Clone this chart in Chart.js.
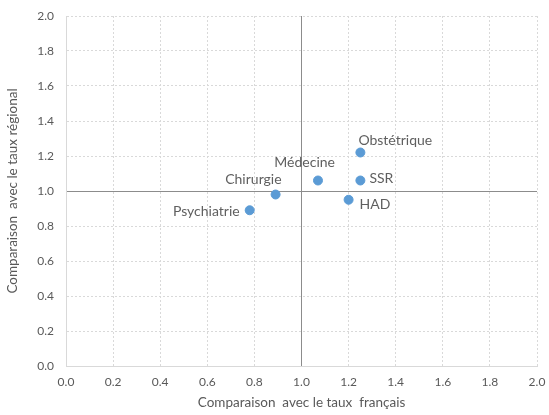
<!DOCTYPE html>
<html>
<head>
<meta charset="utf-8">
<script src="https://cdn.jsdelivr.net/npm/chart.js@4.4.0/dist/chart.umd.min.js"></script>
<style>
  html, body { margin: 0; padding: 0; background: #fff; }
  #wrap { width: 549px; height: 415px; }
</style>
</head>
<body>
<div id="wrap"><canvas id="chart" width="549" height="415"></canvas></div>
<script>
var labels = ["Obstétrique", "SSR", "Médecine", "Chirurgie", "HAD", "Psychiatrie"];
var tauxFrancais = [1.25, 1.25, 1.07, 0.89, 1.20, 0.78];
var tauxRegional = [1.22, 1.06, 1.06, 0.98, 0.95, 0.89];
// label anchor: text align + offset in px from the point
var labelAlign = ["left", "left", "right", "right", "left", "right"];
var labelDx = [-2, 9, 17, 6, 11, -10];
var labelDy = [-12, -2, -18, -15, 5, 1];

var points = tauxFrancais.map(function (x, i) { return { x: x, y: tauxRegional[i] }; });

var pointLabels = {
  id: 'pointLabels',
  afterDatasetsDraw: function (chart) {
    var ctx = chart.ctx;
    var meta = chart.getDatasetMeta(0);
    ctx.save();
    ctx.font = '14px Lato';
    ctx.fillStyle = '#5f5f5f';
    ctx.textBaseline = 'middle';
    meta.data.forEach(function (pt, i) {
      ctx.textAlign = labelAlign[i];
      ctx.fillText(labels[i], pt.x + labelDx[i], pt.y + labelDy[i]);
    });
    ctx.restore();
  }
};

function gridColor(c) { return c.tick && c.tick.value === 1 ? '#8c8c8c' : '#d9d9d9'; }
function gridDash(c) { return c.tick && c.tick.value === 1 ? [] : [2, 2]; }

Chart.defaults.font.family = 'Lato';
Chart.defaults.color = '#595959';

new Chart(document.getElementById('chart').getContext('2d'), {
  type: 'scatter',
  data: {
    datasets: [{
      data: points,
      backgroundColor: '#5b9bd5',
      borderColor: '#5b9bd5',
      pointRadius: 4.5,
      pointHoverRadius: 4.5
    }]
  },
  options: {
    responsive: false,
    animation: false,
    layout: { padding: { top: 16, right: 12, left: 2, bottom: 4 } },
    plugins: { legend: { display: false }, tooltip: { enabled: false } },
    scales: {
      x: {
        min: 0, max: 2,
        afterFit: function (s) { s.height = 45; s.paddingLeft = 0; s.paddingRight = 0; },
        ticks: { stepSize: 0.2, font: { size: 12 }, padding: 9, callback: function (v) { return v.toFixed(1); } },
        grid: { color: gridColor, drawTicks: false },
        border: { color: '#d9d9d9', dash: gridDash },
        title: { display: true, text: 'Comparaison  avec le taux  français', font: { size: 13.5 }, padding: { top: 2, bottom: 0 } }
      },
      y: {
        min: 0, max: 2,
        afterFit: function (s) { s.width = 64; s.paddingTop = 0; s.paddingBottom = 0; },
        ticks: { stepSize: 0.2, font: { size: 12 }, padding: 12, callback: function (v) { return v.toFixed(1); } },
        grid: { color: gridColor, drawTicks: false },
        border: { color: '#d9d9d9', dash: gridDash },
        title: { display: true, text: 'Comparaison  avec le taux régional', font: { size: 13.5 }, padding: { top: 3, bottom: 9 } }
      }
    }
  },
  plugins: [pointLabels]
});
</script>
</body>
</html>
